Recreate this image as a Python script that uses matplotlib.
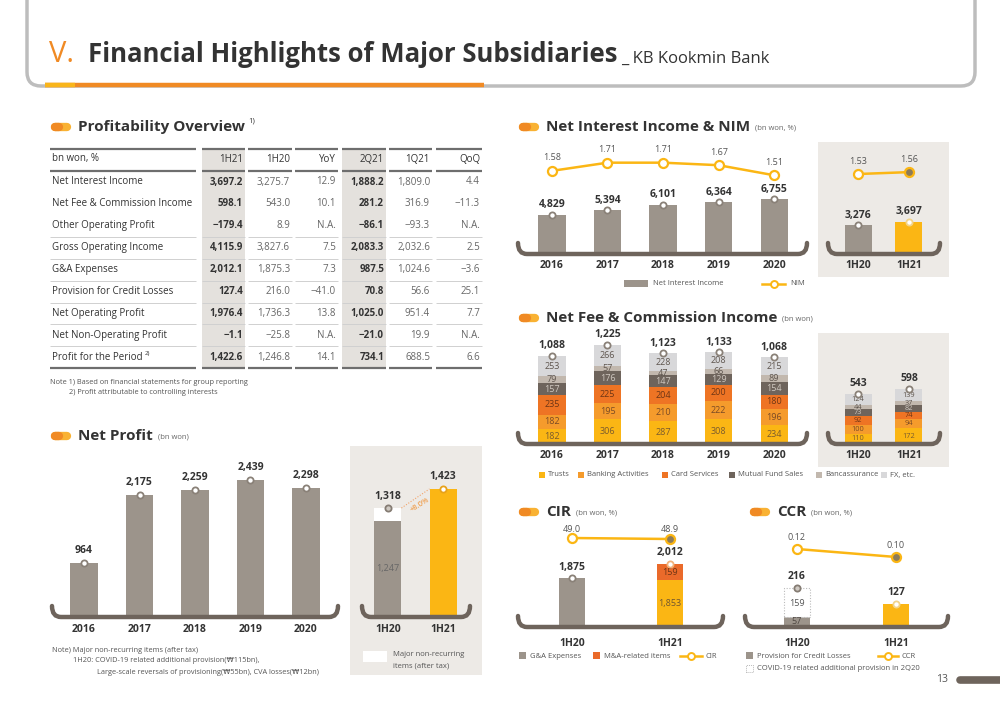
import matplotlib
matplotlib.use('Agg')
import matplotlib.pyplot as plt
from matplotlib.patches import Rectangle, FancyBboxPatch, PathPatch
from matplotlib.lines import Line2D
from matplotlib.path import Path

plt.rcParams['font.family'] = ['Open Sans', 'DejaVu Sans']

# ---- data ----
years = ['2016', '2017', '2018', '2019', '2020']
halves = ['1H20', '1H21']

tbl_head = ['1H21', '1H20', 'YoY', '2Q21', '1Q21', 'QoQ']
tbl_rows = ['Net Interest Income', 'Net Fee & Commission Income', 'Other Operating Profit',
            'Gross Operating Income', 'G&A Expenses', 'Provision for Credit Losses',
            'Net Operating Profit', 'Net Non-Operating Profit', 'Profit for the Period']
col_1h21 = ['3,697.2', '598.1', '\u2212179.4', '4,115.9', '2,012.1', '127.4', '1,976.4', '\u22121.1', '1,422.6']
col_1h20 = ['3,275.7', '543.0', '8.9', '3,827.6', '1,875.3', '216.0', '1,736.3', '\u221225.8', '1,246.8']
col_yoy = ['12.9', '10.1', 'N.A.', '7.5', '7.3', '\u221241.0', '13.8', 'N.A.', '14.1']
col_2q21 = ['1,888.2', '281.2', '\u221286.1', '2,083.3', '987.5', '70.8', '1,025.0', '\u221221.0', '734.1']
col_1q21 = ['1,809.0', '316.9', '\u221293.3', '2,032.6', '1,024.6', '56.6', '951.4', '19.9', '688.5']
col_qoq = ['4.4', '\u221211.3', 'N.A.', '2.5', '\u22123.6', '25.1', '7.7', 'N.A.', '6.6']

profit_year = [964, 2175, 2259, 2439, 2298]
profit_half = [1318, 1423]
profit_1h20_recurring = 1247

nii_year = [4829, 5394, 6101, 6364, 6755]
nim_year = [1.58, 1.71, 1.71, 1.67, 1.51]
nii_half = [3276, 3697]
nim_half = [1.53, 1.56]

fee_names = ['Trusts', 'Banking Activities', 'Card Services', 'Mutual Fund Sales', 'Bancassurance', 'FX, etc.']
fee_trusts = [182, 306, 287, 308, 234]
fee_banking = [182, 195, 210, 222, 196]
fee_card = [235, 225, 204, 200, 180]
fee_fund = [157, 176, 147, 129, 154]
fee_banc = [79, 57, 47, 66, 89]
fee_fx = [253, 266, 228, 208, 215]
fee_trusts_h = [110, 172]
fee_banking_h = [100, 94]
fee_card_h = [92, 74]
fee_fund_h = [73, 82]
fee_banc_h = [44, 37]
fee_fx_h = [124, 139]

cir_ga = [1875, 1853]
cir_ma = [0, 159]
cir = [49.0, 48.9]

ccr_prov = [57, 127]
ccr_covid = [159, 0]
ccr = [0.12, 0.10]

# ---- colours ----
DARK = '#333333'
MID = '#666666'
GRAY = '#9C948B'
YEL = '#FBB614'
ORG = '#F08A24'
PANEL = '#EDEAE6'
BRK = '#6E645C'
SHADE = '#E4E1DD'
MA = '#EA6A2A'
fee_colors = ['#FBB614', '#F59B2C', '#EE7424', '#6E645C', '#C2B8AE', '#D8D8DA']
fee_txt = ['#7A5B2E', '#7A4A25', '#6E3515', '#D0C9C1', '#5E554E', '#5E554E']

W, H = 1000, 707
fig = plt.figure(figsize=(10, 7.07), dpi=100)
IN = fig.dpi_scale_trans


def P(x, y):
    return (x / 100, (H - y) / 100)


def txt(x, y, s, **kw):
    kw.setdefault('color', DARK)
    kw.setdefault('va', 'center')
    return fig.text(x / W, 1 - y / H, s, **kw)


def right_of(t):
    return t.get_window_extent(fig.canvas.get_renderer()).x1


def hline(x0, x1, y, lw=1, color='#777777', cap='butt'):
    fig.add_artist(Line2D([x0 / 100, x1 / 100], [(H - y) / 100] * 2, lw=lw, color=color,
                          transform=IN, solid_capstyle=cap))


def rect(x0, y0, x1, y1, **kw):
    fig.add_artist(Rectangle(P(x0, y1), (x1 - x0) / 100, (y1 - y0) / 100, transform=IN, **kw))


def px_axes(x0, y0, x1, y1):
    ax = fig.add_axes([x0 / W, 1 - y1 / H, (x1 - x0) / W, (y1 - y0) / H])
    ax.set_facecolor('none')
    ax.axis('off')
    return ax


def bracket(ax):
    pos = ax.get_position()
    dx, dy = 9 / (pos.width * W), 11 / (pos.height * H)
    verts = [(0, dy), (0, 0), (dx, 0), (1 - dx, 0), (1, 0), (1, dy)]
    codes = [Path.MOVETO, Path.CURVE3, Path.CURVE3, Path.LINETO, Path.CURVE3, Path.CURVE3]
    ax.add_patch(PathPatch(Path(verts, codes), fill=False, ec=BRK, lw=3.2, transform=ax.transAxes,
                           clip_on=False, capstyle='round', zorder=5))


def tops(ax, xs, ys, fc='white', ec='#8A8178'):
    ax.scatter(xs, ys, s=20, facecolor=fc, edgecolor=ec, linewidth=1.3, zorder=6, clip_on=False)


def lab(ax, xs, ys, strs, dy, size=7.5, weight='bold', color=DARK):
    for x, y, s in zip(xs, ys, strs):
        ax.annotate(s, (x, y), xytext=(0, dy * 0.72), textcoords='offset points', ha='center',
                    va='center', fontsize=size, fontweight=weight, color=color, annotation_clip=False)


def xlabels(ax, labels, dy):
    for i, s in enumerate(labels):
        ax.annotate(s, (i, 0), xycoords=('data', 'axes fraction'), xytext=(0, -dy * 0.72),
                    textcoords='offset points', ha='center', va='center', fontsize=7.5,
                    fontweight='bold', color=DARK, annotation_clip=False)


def section(x, y, title, unit='', size=11):
    hline(x + 4, x + 16, y, lw=6, color='#F9B233', cap='round')
    hline(x + 4, x + 8, y, lw=6, color=ORG, cap='round')
    t = txt(x + 27, y, title, fontsize=size, fontweight='bold')
    if unit:
        txt(right_of(t) + 5, y + 1, unit, fontsize=5.5, color=MID)
    return t


def fmt(v):
    return f'{v:,}'


# ---- header ----
fig.add_artist(FancyBboxPatch(P(27, 86), 9.48, 3.0, boxstyle='round,pad=0,rounding_size=0.14',
                              transform=IN, fc='white', ec='#BDBDBD', lw=2.5))
hline(45, 484, 85, lw=3.2, color=ORG)
hline(45, 75, 85, lw=3.2, color='#F9B51B')
txt(49, 55, 'V.', fontsize=21, color=ORG)
t = txt(88, 55, 'Financial Highlights of Major Subsidiaries', fontsize=18.5, fontweight='bold')
txt(right_of(t) + 4, 59, '_ KB Kookmin Bank', fontsize=12)

# ---- profitability table ----
t = section(51, 127, 'Profitability Overview')
txt(right_of(t) + 3, 121, '1)', fontsize=5.5)
segs = [(50, 196), (202, 245), (248, 292), (295, 338), (342, 386), (389, 432), (436, 482)]
rect(202, 149, 245, 367, color=SHADE, lw=0)
rect(342, 149, 386, 367, color=SHADE, lw=0)
row_y = [182 + 21.9 * i for i in range(len(tbl_rows))]
for a, b in segs:
    hline(a, b, 149, lw=1.6, color='#6E6E6E')
    hline(a, b, 171, lw=1.6, color='#6E6E6E')
    hline(a, b, 368, lw=1.6, color='#6E6E6E')
    for i in range(2, 8):
        hline(a, b, row_y[i] + 11, lw=0.7, color='#D0D0D0')
txt(52, 159, 'bn won, %', fontsize=7)
columns = [col_1h21, col_1h20, col_yoy, col_2q21, col_1q21, col_qoq]
for j, (head, col) in enumerate(zip(tbl_head, columns)):
    xr = segs[j + 1][1] - 2
    txt(xr, 159, head, fontsize=7, ha='right')
    bold = head in ('1H21', '2Q21')
    for y, v in zip(row_y, col):
        txt(xr, y, v, fontsize=7, ha='right', fontweight='bold' if bold else 'normal',
            color=DARK if bold else MID)
for y, name in zip(row_y, tbl_rows):
    t = txt(52, y, name, fontsize=7)
txt(right_of(t) + 2, row_y[-1] - 4, '2)', fontsize=4.5)
txt(50, 382, 'Note 1) Based on financial statements for group reporting', fontsize=5.3, color='#555555')
txt(69, 393, '2) Profit attributable to controlling interests', fontsize=5.3, color='#555555')

# ---- net profit ----
section(51, 436, 'Net Profit', '(bn won)')
ax = px_axes(52, 460, 338, 617)
xs = list(range(len(years)))
ax.bar(xs, profit_year, width=0.49, color=GRAY)
ax.set_xlim(-0.577, 4.577)
ax.set_ylim(0, 2790)
tops(ax, xs, profit_year)
lab(ax, xs, profit_year, [fmt(v) for v in profit_year], 12)
xlabels(ax, years, 12)
bracket(ax)

rect(350, 446, 482, 675, color=PANEL, lw=0, zorder=0)
ax = px_axes(362, 460, 470, 617)
ax.set_xlim(-0.47, 1.49)
ax.set_ylim(719, 1582)
ax.bar([0], [profit_1h20_recurring], width=0.49, color=GRAY)
ax.bar([0], [profit_half[0] - profit_1h20_recurring], bottom=[profit_1h20_recurring], width=0.49, color='white')
ax.bar([1], [profit_half[1]], width=0.49, color=YEL)
ax.plot([0.245, 0.755], profit_half, ls=(0, (1, 1.5)), color='#F2A46A', lw=0.8)
ax.annotate('+8.0%', (0.5, sum(profit_half) / 2), xytext=(3, -5), textcoords='offset points',
            rotation=32, ha='center', va='center', fontsize=5.5, color=ORG)
tops(ax, [0], [profit_half[0]], fc='#CFC9C2', ec='#857C73')
tops(ax, [1], [profit_half[1]], ec='#E8A21A')
lab(ax, [0, 1], profit_half, [fmt(v) for v in profit_half], 12)
lab(ax, [0], [profit_1h20_recurring], [fmt(profit_1h20_recurring)], -48, size=6.5, weight='normal', color=MID)
xlabels(ax, halves, 12)
bracket(ax)
rect(363, 651, 387, 662, color='white', lw=0)
txt(393, 655, 'Major non-recurring', fontsize=5.5, color='#555555')
txt(393, 666, 'items (after tax)', fontsize=5.5, color='#555555')

txt(52, 650, 'Note) Major non-recurring items (after tax)', fontsize=5.3, color='#555555')
txt(73, 661, '1H20: COVID-19 related additional provision(\u20a9115bn),', fontsize=5.3, color='#555555')
txt(97, 672, 'Large-scale reversals of provisioning(\u20a955bn), CVA losses(\u20a912bn)', fontsize=5.3, color='#555555')

# ---- net interest income & NIM ----
section(519, 127, 'Net Interest Income & NIM', '(bn won, %)')
ax = px_axes(518, 140, 807, 254)
ax.bar(xs, nii_year, width=0.49, color=GRAY)
ax.set_xlim(-0.61, 4.59)
ax.set_ylim(0, 14074)
tops(ax, xs, nii_year)
lab(ax, xs, nii_year, [fmt(v) for v in nii_year], 10)
xlabels(ax, years, 11)
bracket(ax)
ax2 = ax.twinx()
ax2.axis('off')
ax2.set_ylim(0.26, 2.07)
ax2.plot(xs, nim_year, color=YEL, lw=1.8, marker='o', ms=6.5, mfc='white', mec=YEL, mew=1.6)
lab(ax2, xs, nim_year, [f'{v:.2f}' for v in nim_year], 13, size=6.5, weight='normal', color='#555555')

rect(818, 142, 949, 277, color=PANEL, lw=0, zorder=0)
ax = px_axes(828, 140, 940, 254)
ax.bar([0, 1], nii_half, width=0.53, color=[GRAY, YEL])
ax.set_xlim(-0.59, 1.61)
ax.set_ylim(0, 13100)
tops(ax, [0], [nii_half[0]])
tops(ax, [1], [nii_half[1]], ec='#F2D48A')
lab(ax, [0, 1], nii_half, [fmt(v) for v in nii_half], 10)
xlabels(ax, halves, 11)
bracket(ax)
ax2 = ax.twinx()
ax2.axis('off')
ax2.set_ylim(0.26, 2.07)
ax2.plot([0, 1], nim_half, color=YEL, lw=1.8)
ax2.plot([0], [nim_half[0]], 'o', ms=6.5, mfc='white', mec=YEL, mew=1.6)
ax2.plot([1], [nim_half[1]], 'o', ms=6.5, mfc='#8C7B5A', mec=YEL, mew=1.6)
lab(ax2, [0, 1], nim_half, [f'{v:.2f}' for v in nim_half], 13, size=6.5, weight='normal', color='#555555')

rect(624, 280, 648, 287, color=GRAY, lw=0)
txt(653, 283.5, 'Net Interest Income', fontsize=5.5, color='#555555')
fig.add_artist(Line2D([762 / W, 785 / W], [1 - 283.5 / H] * 2, color=YEL, lw=1.8, transform=fig.transFigure))
fig.add_artist(Line2D([773.5 / W], [1 - 283.5 / H], marker='o', ms=5, mfc='white', mec=YEL, mew=1.4,
                      transform=fig.transFigure))
txt(790, 283.5, 'NIM', fontsize=5.5, color='#555555')

# ---- net fee & commission income ----
section(519, 318, 'Net Fee & Commission Income', '(bn won)')


def fee_stack(ax, parts, xpos, width, size):
    bottom = [0] * len(xpos)
    for k, vals in enumerate(parts):
        ax.bar(xpos, vals, width=width, bottom=bottom, color=fee_colors[k])
        for x, b, v in zip(xpos, bottom, vals):
            ax.text(x, b + v / 2, str(v), ha='center', va='center', fontsize=size, color=fee_txt[k])
        bottom = [b + v for b, v in zip(bottom, vals)]
    tops(ax, xpos, bottom)
    lab(ax, xpos, bottom, [fmt(v) for v in bottom], 10)


ax = px_axes(518, 330, 807, 444)
ax.set_xlim(-0.61, 4.59)
ax.set_ylim(0, 1407)
fee_stack(ax, [fee_trusts, fee_banking, fee_card, fee_fund, fee_banc, fee_fx], xs, 0.49, 6.5)
xlabels(ax, years, 12)
bracket(ax)

rect(818, 333, 949, 467, color=PANEL, lw=0, zorder=0)
ax = px_axes(828, 330, 940, 444)
ax.set_xlim(-0.59, 1.61)
ax.set_ylim(0, 1230)
fee_stack(ax, [fee_trusts_h, fee_banking_h, fee_card_h, fee_fund_h, fee_banc_h, fee_fx_h], [0, 1], 0.53, 5.3)
xlabels(ax, halves, 12)
bracket(ax)

fee_leg_x = [539, 578, 662, 729, 816, 881]
for xq, c, name in zip(fee_leg_x, fee_colors, fee_names):
    rect(xq, 472, xq + 6, 478, color=c, lw=0)
    txt(xq + 9, 475, name, fontsize=5.5, color='#555555')

# ---- CIR ----
section(519, 512, 'CIR', '(bn won, %)')
ax = px_axes(518, 520, 723, 627)
ax.set_xlim(-0.55, 1.54)
ax.set_ylim(1400, 2439)
ax.bar([0, 1], cir_ga, width=0.27, color=[GRAY, YEL])
ax.bar([0, 1], cir_ma, bottom=cir_ga, width=0.27, color=MA)
cir_tot = [a + b for a, b in zip(cir_ga, cir_ma)]
tops(ax, [0], [cir_tot[0]])
tops(ax, [1], [cir_tot[1]], ec='#F2B27A')
lab(ax, [0, 1], cir_tot, ['1,875', '2,012'], 11)
ax.text(1, (1400 + cir_ga[1]) / 2, fmt(cir_ga[1]), ha='center', va='center', fontsize=6.5, color='#6E5530')
ax.text(1, cir_ga[1] + cir_ma[1] / 2, str(cir_ma[1]), ha='center', va='center', fontsize=6.5, color='#6E3515')
xlabels(ax, halves, 16)
bracket(ax)
ax2 = ax.twinx()
ax2.axis('off')
ax2.set_ylim(40.1, 50.8)
ax2.plot([0, 1], cir, color=YEL, lw=1.8)
ax2.plot([0], [cir[0]], 'o', ms=6.5, mfc='white', mec=YEL, mew=1.6)
ax2.plot([1], [cir[1]], 'o', ms=6.5, mfc='#8C7B5A', mec=YEL, mew=1.6)
lab(ax2, [0, 1], cir, [f'{v:.1f}' for v in cir], 9, size=6.5, weight='normal', color='#555555')

rect(519, 652, 526, 659, color=GRAY, lw=0)
txt(530, 656, 'G&A Expenses', fontsize=5.5, color='#555555')
rect(593, 652, 600, 659, color=MA, lw=0)
txt(604, 656, 'M&A-related items', fontsize=5.5, color='#555555')
fig.add_artist(Line2D([680 / W, 702 / W], [1 - 656 / H] * 2, color=YEL, lw=1.8, transform=fig.transFigure))
fig.add_artist(Line2D([691 / W], [1 - 656 / H], marker='o', ms=5, mfc='white', mec=YEL, mew=1.4,
                      transform=fig.transFigure))
txt(706, 656, 'CIR', fontsize=5.5, color='#555555')

# ---- CCR ----
section(750, 512, 'CCR', '(bn won, %)')
ax = px_axes(745, 520, 948, 627)
ax.set_xlim(-0.525, 1.525)
ax.set_ylim(0, 594)
ax.bar([0, 1], ccr_prov, width=0.27, color=[GRAY, YEL])
ax.bar([0], [ccr_covid[0]], bottom=[ccr_prov[0]], width=0.27, color='white', ec='#BBBBBB',
       lw=0.8, ls=(0, (1, 1.5)))
ccr_tot = [a + b for a, b in zip(ccr_prov, ccr_covid)]
tops(ax, [0], [ccr_tot[0]], fc='#CFC9C2', ec='#857C73')
tops(ax, [1], [ccr_tot[1]], ec='#F2D48A')
lab(ax, [0, 1], ccr_tot, [str(v) for v in ccr_tot], 12)
ax.text(0, ccr_prov[0] / 2, str(ccr_prov[0]), ha='center', va='center', fontsize=6.5, color='#4E4640')
ax.text(0, ccr_prov[0] + ccr_covid[0] * 0.45, str(ccr_covid[0]), ha='center', va='center', fontsize=6.5, color='#555555')
xlabels(ax, halves, 16)
bracket(ax)
ax2 = ax.twinx()
ax2.axis('off')
ax2.set_ylim(-0.075, 0.1925)
ax2.plot([0, 1], ccr, color=YEL, lw=1.8)
ax2.plot([0], [ccr[0]], 'o', ms=6.5, mfc='white', mec=YEL, mew=1.6)
ax2.plot([1], [ccr[1]], 'o', ms=6.5, mfc='#8C7B5A', mec=YEL, mew=1.6)
lab(ax2, [0, 1], ccr, [f'{v:.2f}' for v in ccr], 11, size=6.5, weight='normal', color='#555555')

rect(746, 652, 753, 659, color=GRAY, lw=0)
txt(757, 656, 'Provision for Credit Losses', fontsize=5.5, color='#555555')
fig.add_artist(Line2D([878 / W, 898 / W], [1 - 656 / H] * 2, color=YEL, lw=1.8, transform=fig.transFigure))
fig.add_artist(Line2D([888 / W], [1 - 656 / H], marker='o', ms=5, mfc='white', mec=YEL, mew=1.4,
                      transform=fig.transFigure))
txt(902, 656, 'CCR', fontsize=5.5, color='#555555')
rect(746, 665, 753, 672, fc='white', ec='#BBBBBB', lw=0.7, ls=(0, (1, 1)))
txt(757, 669, 'COVID-19 related additional provision in 2Q20', fontsize=5.5, color='#555555')

# ---- page number ----
txt(942, 680, '13', fontsize=7.5, ha='center', color='#555555')
hline(960, 1010, 680, lw=5.5, color=BRK, cap='round')

fig.savefig('out.png', dpi=100)
